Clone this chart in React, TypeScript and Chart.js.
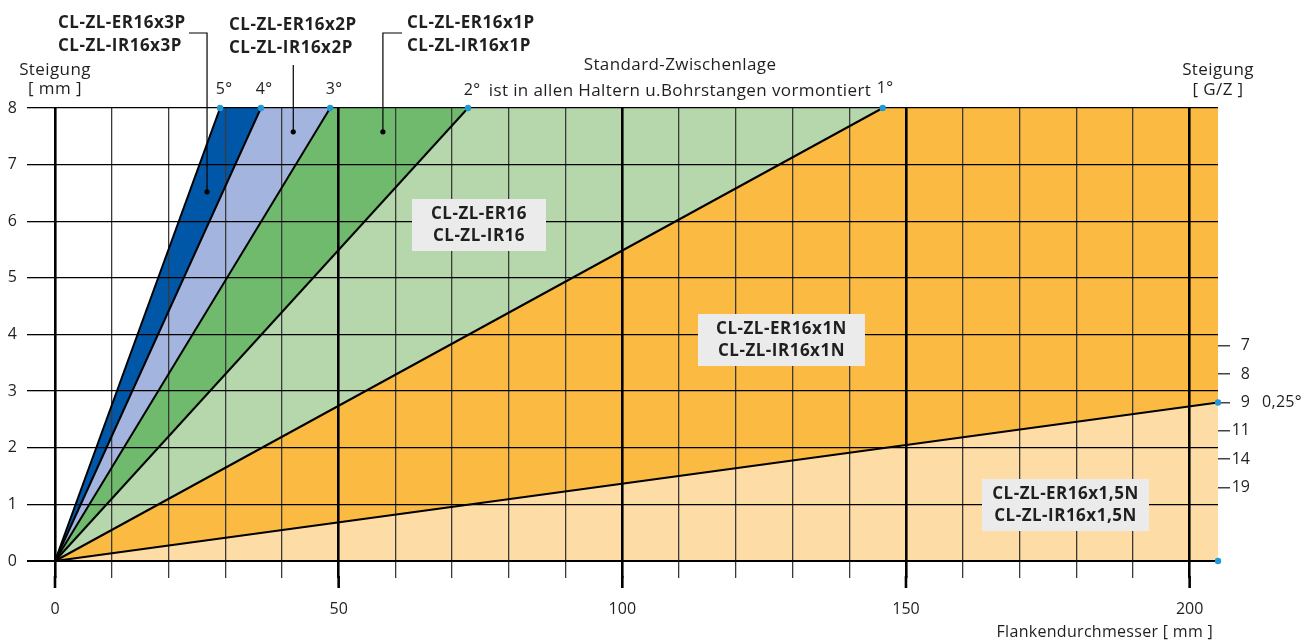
import { useEffect, useRef } from 'react';
import { Chart, registerables } from 'chart.js';

Chart.register(...registerables);

// ---------- data ----------
const angleLabels = ['5°', '4°', '3°', '2°', '1°', '0,25°'];
const lineEndX = [29.1, 36.3, 48.5, 72.8, 145.9, 205];
const lineEndY = [8, 8, 8, 8, 8, 2.8];
const regionColors = ['#0057A8', '#A3B4DE', '#6FBA6C', '#B5D7AB', '#FBBA42', '#FDDCA6'];

const xMin = 0;
const xMax = 205;
const yMin = 0;
const yMax = 8;
const xGridValues = [0, 10, 20, 30, 40, 50, 60, 70, 80, 90, 100, 110, 120, 130, 140, 150, 160, 170, 180, 190, 200];
const xLabelValues = [0, 50, 100, 150, 200];

const gzLabels = ['7', '8', '9', '11', '14', '19'];
const gzPositions = [3.8, 3.3, 2.8, 2.3, 1.8, 1.3];

const calloutX = [26.8, 42.0, 57.8];
const calloutY = [6.52, 7.58, 7.58];
const cornerDotX = [205];
const cornerDotY = [0];

const boxLabels = [
  ['CL-ZL-ER16', 'CL-ZL-IR16'],
  ['CL-ZL-ER16x1N', 'CL-ZL-IR16x1N'],
  ['CL-ZL-ER16x1,5N', 'CL-ZL-IR16x1,5N'],
];
const calloutTitles = [
  ['CL-ZL-ER16x3P', 'CL-ZL-IR16x3P'],
  ['CL-ZL-ER16x2P', 'CL-ZL-IR16x2P'],
  ['CL-ZL-ER16x1P', 'CL-ZL-IR16x1P'],
];

// ---------- styles / layout ----------
const FONT = "'Open Sans', 'Noto Sans', sans-serif";
const TEXT = '#1f1f1f';
const BLUE_DOT = '#1E9BD7';

const boxLayout = [
  { cx: 479, cy: 225, w: 134, h: 52 },
  { cx: 781.5, cy: 340, w: 167, h: 52 },
  { cx: 1065.5, cy: 505, w: 167, h: 52 },
];
const titleLayout = [
  { x: 58, y1: 23, y2: 46 },
  { x: 229, y1: 25, y2: 48 },
  { x: 407, y1: 23, y2: 46 },
];
// leader paths (pixel points from title to callout dot)
const leaderTop = [
  { hx: 189, hy: 33 },
  { hx: null as number | null, hy: 65 },
  { hx: 402, hy: 33 },
];
const angleLabelPos = [
  { x: 224, y: 89, align: 'center' },
  { x: 264, y: 89, align: 'center' },
  { x: 334, y: 89, align: 'center' },
  { x: 472, y: 90, align: 'center' },
  { x: 885, y: 88, align: 'center' },
  { x: 1262, y: 402, align: 'left' },
];

function setSpacing(ctx: any, px: number) {
  try {
    ctx.letterSpacing = `${px}px`;
  } catch (e) {
    /* ignore */
  }
}

const annotationPlugin = {
  id: 'annotations',
  afterDraw(chart: any) {
    const { ctx, chartArea } = chart;
    const x = chart.scales.x;
    const y = chart.scales.y;
    ctx.save();

    // longer tick marks for major x values
    ctx.strokeStyle = '#000';
    ctx.lineWidth = 2.6;
    xLabelValues.forEach((v) => {
      const px = x.getPixelForValue(v);
      ctx.beginPath();
      ctx.moveTo(px, chartArea.bottom + 15);
      ctx.lineTo(px, chartArea.bottom + 27);
      ctx.stroke();
    });

    // leader lines
    ctx.strokeStyle = '#000';
    ctx.lineWidth = 1.2;
    calloutX.forEach((cxv, i) => {
      const px = x.getPixelForValue(cxv);
      const py = y.getPixelForValue(calloutY[i]);
      const lt = leaderTop[i];
      ctx.beginPath();
      if (lt.hx !== null) {
        ctx.moveTo(lt.hx, lt.hy);
        ctx.lineTo(px, lt.hy);
      } else {
        ctx.moveTo(px, lt.hy);
      }
      ctx.lineTo(px, py);
      ctx.stroke();
    });

    // label boxes
    ctx.textBaseline = 'middle';
    boxLabels.forEach((lines, i) => {
      const b = boxLayout[i];
      ctx.fillStyle = '#EBEBEB';
      ctx.fillRect(b.cx - b.w / 2, b.cy - b.h / 2, b.w, b.h);
      ctx.fillStyle = TEXT;
      ctx.font = `bold 17px ${FONT}`;
      setSpacing(ctx, 0.5);
      ctx.textAlign = 'center';
      ctx.fillText(lines[0], b.cx, b.cy - 11);
      ctx.fillText(lines[1], b.cx, b.cy + 11);
    });

    // callout titles
    ctx.font = `bold 17px ${FONT}`;
    setSpacing(ctx, 0.5);
    ctx.textAlign = 'left';
    ctx.fillStyle = TEXT;
    calloutTitles.forEach((lines, i) => {
      const t = titleLayout[i];
      ctx.fillText(lines[0], t.x, t.y1);
      ctx.fillText(lines[1], t.x, t.y2);
    });

    // angle labels
    ctx.font = `16px ${FONT}`;
    setSpacing(ctx, 0.3);
    angleLabels.forEach((lab, i) => {
      const p = angleLabelPos[i];
      ctx.textAlign = p.align as CanvasTextAlign;
      ctx.fillText(lab, p.x, p.y);
    });

    // headers
    ctx.font = `17px ${FONT}`;
    setSpacing(ctx, 0.4);
    ctx.textAlign = 'center';
    ctx.fillText('Standard-Zwischenlage', 680, 65);
    ctx.fillText('ist in allen Haltern u.Bohrstangen vormontiert', 680, 91);
    ctx.fillText('Steigung', 55, 70);
    ctx.fillText('[ mm ]', 55, 89);
    ctx.fillText('Steigung', 1218, 70);
    ctx.fillText('[ G/Z ]', 1218, 90);
    ctx.font = `16px ${FONT}`;
    setSpacing(ctx, 0.3);
    ctx.textAlign = 'right';
    ctx.fillText('Flankendurchmesser [ mm ]', 1213, 632);

    setSpacing(ctx, 0);
    ctx.restore();
  },
};

export default function App() {
  const canvasRef = useRef<HTMLCanvasElement | null>(null);

  useEffect(() => {
    if (!canvasRef.current) return;

    const lineDatasets = lineEndX.map((ex, i) => ({
      label: angleLabels[i],
      data: [
        { x: 0, y: 0 },
        { x: ex, y: lineEndY[i] },
      ],
      showLine: true,
      borderColor: '#000',
      borderWidth: 2,
      pointRadius: (c: any) => (c.dataIndex === 0 ? 0 : 3.2),
      pointBackgroundColor: BLUE_DOT,
      pointBorderWidth: 0,
      fill: false,
      clip: false as any,
    }));

    const fillOrder = [5, 4, 3, 2, 1, 0];
    const fillDatasets = fillOrder.map((i) => {
      const pts: { x: number; y: number }[] = [
        { x: 0, y: 0 },
        { x: lineEndX[i], y: lineEndY[i] },
      ];
      if (lineEndY[i] >= yMax && lineEndX[i] < xMax) pts.push({ x: xMax, y: yMax });
      return {
        label: 'fill ' + angleLabels[i],
        data: pts,
        showLine: true,
        borderColor: 'rgba(0,0,0,0)',
        borderWidth: 0,
        pointRadius: 0,
        backgroundColor: regionColors[i],
        fill: 'start',
      };
    });

    const calloutDots = {
      label: 'callouts',
      data: calloutX.map((v, i) => ({ x: v, y: calloutY[i] })),
      showLine: false,
      pointRadius: 2.6,
      pointBackgroundColor: '#000',
      pointBorderWidth: 0,
    };
    const cornerDots = {
      label: 'corner',
      data: cornerDotX.map((v, i) => ({ x: v, y: cornerDotY[i] })),
      showLine: false,
      pointRadius: 3.2,
      pointBackgroundColor: BLUE_DOT,
      pointBorderWidth: 0,
      clip: false as any,
    };

    const chart = new Chart(canvasRef.current, {
      type: 'scatter',
      data: {
        datasets: [calloutDots, cornerDots, ...lineDatasets, ...fillDatasets] as any,
      },
      options: {
        animation: false,
        responsive: false,
        events: [],
        layout: { padding: { top: 108, left: 0, right: 61, bottom: 0 } },
        plugins: {
          legend: { display: false },
          tooltip: { enabled: false },
          filler: { drawTime: 'beforeDraw' },
        } as any,
        scales: {
          x: {
            type: 'linear',
            position: 'bottom',
            min: xMin,
            max: xMax,
            afterBuildTicks: (axis: any) => {
              axis.ticks = xGridValues.map((v) => ({ value: v }));
            },
            afterFit: (axis: any) => {
              axis.height = 81;
            },
            border: { display: false },
            grid: {
              color: (c: any) => (c.tick && c.tick.value % 50 === 0 ? '#000' : '#3a3a3a'),
              lineWidth: (c: any) => (c.tick && c.tick.value % 50 === 0 ? 2.6 : 1.3),
              tickLength: 17,
            },
            ticks: {
              autoSkip: false,
              maxRotation: 0,
              padding: 22,
              color: TEXT,
              font: { size: 16, family: FONT },
              callback: (v: any) => (xLabelValues.includes(Number(v)) ? String(v) : ''),
            },
          },
          y: {
            type: 'linear',
            position: 'left',
            min: yMin,
            max: yMax,
            afterFit: (axis: any) => {
              axis.width = 55;
            },
            border: { display: false },
            grid: {
              color: '#000',
              lineWidth: (c: any) => (c.tick && c.tick.value === 0 ? 2 : 1.3),
              tickLength: 28,
            },
            ticks: {
              stepSize: 1,
              padding: 10,
              color: TEXT,
              font: { size: 16, family: FONT },
            },
          },
          y2: {
            type: 'linear',
            position: 'right',
            min: yMin,
            max: yMax,
            afterBuildTicks: (axis: any) => {
              axis.ticks = gzPositions.map((v) => ({ value: v }));
            },
            afterFit: (axis: any) => {
              axis.width = 32;
            },
            border: { display: false },
            grid: {
              drawOnChartArea: false,
              color: '#444',
              lineWidth: 1.5,
              tickLength: 12,
            },
            ticks: {
              crossAlign: 'far',
              padding: 2,
              color: TEXT,
              font: { size: 16, family: FONT },
              callback: (_v: any, i: number) => gzLabels[i],
            },
          },
        },
      },
      plugins: [annotationPlugin],
    });

    return () => chart.destroy();
  }, []);

  return (
    <div style={{ position: 'absolute', left: 0, top: 0, width: 1311, height: 642 }}>
      <canvas ref={canvasRef} width={1311} height={642} style={{ width: 1311, height: 642 }} />
    </div>
  );
}
